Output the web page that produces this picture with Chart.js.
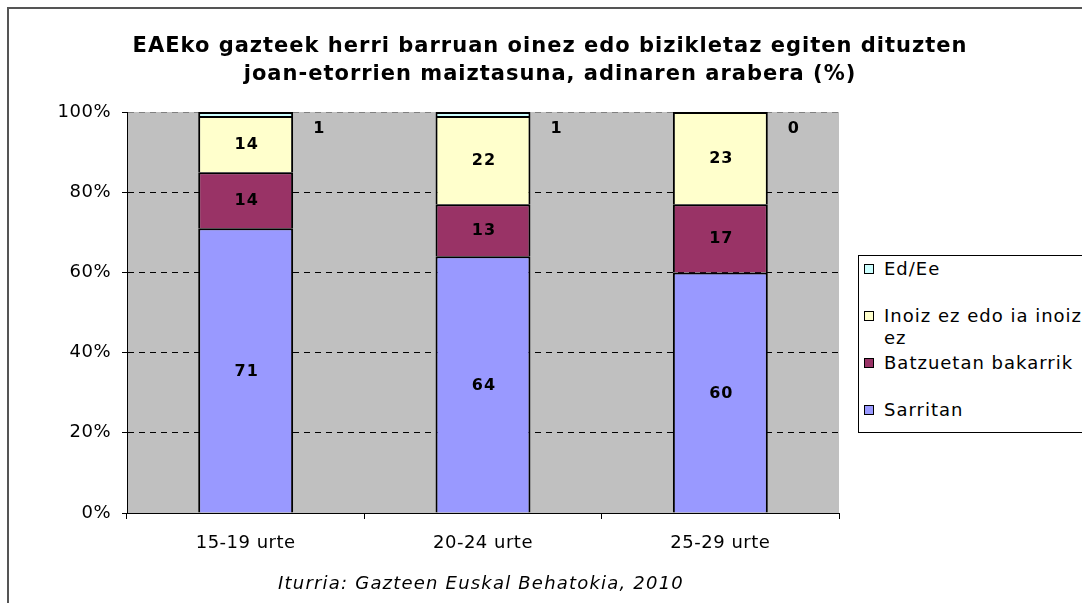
<!DOCTYPE html>
<html>
<head>
<meta charset="utf-8">
<script src="https://cdn.jsdelivr.net/npm/chart.js@4.4.1/dist/chart.umd.min.js"></script>
<style>
  html, body { margin: 0; padding: 0; background: #fff; overflow: hidden; }
  #frame { position: absolute; left: 7px; top: 7px; width: 1200px; height: 700px;
           border-left: 2px solid #555; border-top: 2px solid #555; }
  #wrap { position: absolute; left: 0; top: 0; width: 1100px; height: 603px; }
  #legend { position: absolute; left: 858px; top: 255px; width: 260px; height: 176px;
            border: 1px solid #000; background: #fff; font: 18px "DejaVu Sans"; letter-spacing: 1px; }
  .item { position: absolute; left: 5px; line-height: 22px; width: 225px; padding-left: 20px; color: #000; }
  .item span { position: absolute; left: 0; top: 6px; width: 8px; height: 8px; border: 1px solid #000; }
</style>
</head>
<body>
<div id="frame"></div>
<div id="wrap"><canvas id="chart" width="1100" height="603"></canvas></div>
<div id="legend"></div>
<script>
// datuak
const categories = ["15-19 urte", "20-24 urte", "25-29 urte"];
const sarritan = [71, 64, 60];
const batzuetan = [14, 13, 17];
const inoiz = [14, 22, 23];
const edEe = [1, 1, 0];
const yTicks = [0, 20, 40, 60, 80, 100];
const titleLines = ["EAEko gazteek herri barruan oinez edo bizikletaz egiten dituzten",
                    "joan-etorrien maiztasuna, adinaren arabera (%)"];
const sourceText = "Iturria: Gazteen Euskal Behatokia, 2010";

const spacing = {
  id: "spacing",
  beforeUpdate(chart) { chart.ctx.letterSpacing = "0.5px"; },
  beforeDraw(chart) {
    chart.ctx.letterSpacing = "0.5px";
    const a = chart.chartArea;
    chart.ctx.save();
    chart.ctx.fillStyle = "#C0C0C0";
    chart.ctx.fillRect(a.left, a.top, a.right - a.left, a.bottom - a.top);
    chart.ctx.restore();
  }
};

const texts = {
  id: "texts",
  afterDatasetsDraw(chart) {
    const ctx = chart.ctx;
    ctx.save();
    ctx.font = 'bold 16px "DejaVu Sans"';
    ctx.letterSpacing = "1px";
    ctx.fillStyle = "#000";
    ctx.textBaseline = "middle";
    chart.data.datasets.forEach((ds, i) => {
      chart.getDatasetMeta(i).data.forEach((bar, j) => {
        const v = ds.data[j];
        const p = bar.getProps(["x", "y", "base", "width"], true);
        if (ds.outside) {
          ctx.textAlign = "left";
          ctx.fillText(String(v), p.x + p.width / 2 + 20, p.y + 17);
        } else {
          ctx.textAlign = "center";
          ctx.fillText(String(v), p.x + 1, (p.y + p.base) / 2 + 1);
        }
      });
    });
    // izenburua
    ctx.font = 'bold 21px "DejaVu Sans"';
    ctx.textAlign = "center";
    titleLines.forEach((t, k) => ctx.fillText(t, chart.width / 2, 47 + k * 28));
    // iturria
    const a = chart.chartArea;
    ctx.font = 'italic 18px "DejaVu Sans"';
    ctx.letterSpacing = "1.2px";
    ctx.fillText(sourceText, (a.left + a.right) / 2 - 2, 584);
    ctx.restore();
  }
};

const chart = new Chart(document.getElementById("chart"), {
  type: "bar",
  data: {
    labels: categories,
    datasets: [
      { label: "Sarritan", data: sarritan, backgroundColor: "#9999FF" },
      { label: "Batzuetan bakarrik", data: batzuetan, backgroundColor: "#993366" },
      { label: "Inoiz ez edo ia inoiz ez", data: inoiz, backgroundColor: "#FFFFCC" },
      { label: "Ed/Ee", data: edEe, backgroundColor: "#CCFFFF", outside: true }
    ].map(d => Object.assign(d, { borderColor: "#000", borderWidth: 2, barPercentage: 0.4, categoryPercentage: 1 }))
  },
  options: {
    responsive: false,
    devicePixelRatio: 1,
    animation: false,
    layout: { padding: { left: 0, right: 261, top: 112, bottom: 0 } },
    plugins: {
      legend: { display: false },
      tooltip: { enabled: false },
      title: { display: false }
    },
    scales: {
      x: {
        stacked: true,
        grid: { offset: true, drawOnChartArea: false, drawTicks: true, tickLength: 6, color: "#000" },
        border: { color: "#000", width: 1 },
        ticks: { color: "#000", padding: 14, font: { family: "DejaVu Sans", size: 18 } },
        afterFit(s) { s.height = 90; }
      },
      y: {
        stacked: true,
        min: 0, max: 100,
        afterBuildTicks(s) { s.ticks = yTicks.map(v => ({ value: v })); },
        grid: {
          color: c => (c.tick && c.tick.value === 100 ? "#808080" : "#000"),
          tickColor: "#000", tickLength: 5, tickBorderDash: []
        },
        border: { color: "#000", width: 1, dash: [6, 5] },
        ticks: { color: "#000", padding: 11, font: { family: "DejaVu Sans", size: 18 }, callback: v => v + "%" },
        afterFit(s) { s.width = 127; }
      }
    }
  },
  plugins: [spacing, texts]
});

// legenda
const legend = document.getElementById("legend");
chart.data.datasets.slice().reverse().forEach((ds, i) => {
  const el = document.createElement("div");
  el.className = "item";
  el.style.top = (2 + i * 47) + "px";
  el.innerHTML = '<span style="background:' + ds.backgroundColor + '"></span>' + ds.label;
  legend.appendChild(el);
});
</script>
</body>
</html>
